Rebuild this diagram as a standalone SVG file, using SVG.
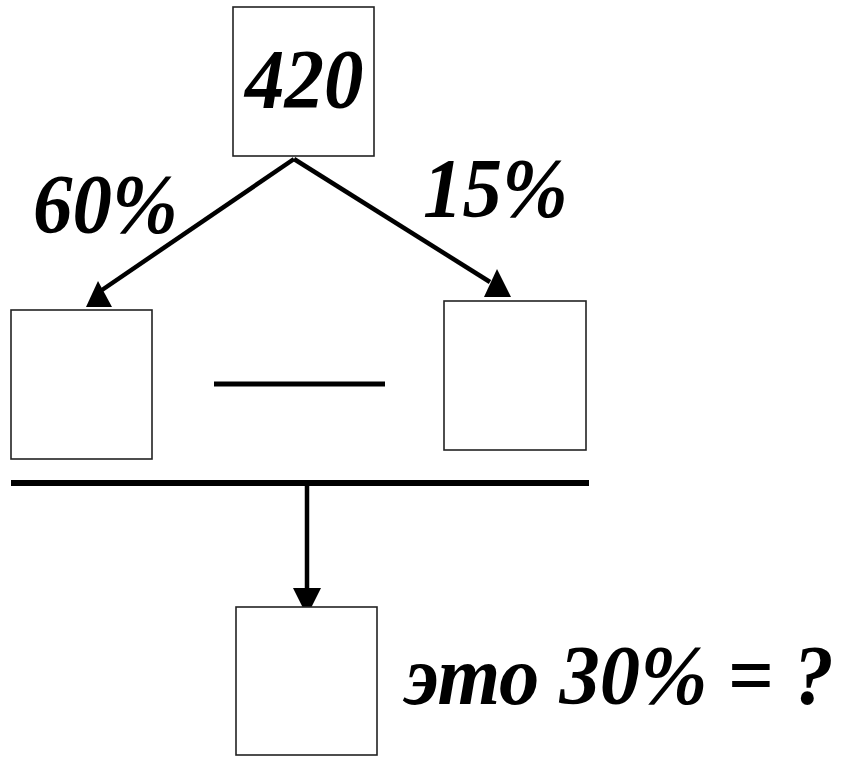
<svg xmlns="http://www.w3.org/2000/svg" width="845" height="757" viewBox="0 0 845 757">
<style>
.box{fill:#fff;stroke:#222;stroke-width:1.6}
.t{font-family:"Liberation Serif","Times New Roman",serif;font-weight:bold;font-style:italic;font-size:84px;fill:#000}
.ln{stroke:#000;stroke-width:4.5;fill:none}
.bar{stroke:#000;stroke-width:6;fill:none}
.ah{fill:#000}
</style>
<rect width="845" height="757" fill="#fff"/>
<g id="connectors">
<line class="ln" x1="294" y1="159" x2="102" y2="290"/>
<polygon class="ah" points="98,281 86,307 112,307"/>
<line class="ln" x1="294" y1="159" x2="490" y2="282"/>
<polygon class="ah" points="497,269 484,297 511,297"/>
<line class="bar" x1="11" y1="483" x2="589" y2="483"/>
<line class="ln" x1="307" y1="483" x2="307" y2="592"/>
<polygon class="ah" points="293,588 321,588 307,616"/>
</g>
<g id="node-top">
<rect class="box" x="233" y="7" width="141" height="149"/>
<text class="t" transform="translate(245,108) scale(0.94,1)">420</text>
</g>
<g id="label-60">
<text class="t" transform="translate(33,233) scale(0.94,1)">60%</text>
</g>
<g id="label-15">
<text class="t" transform="translate(423,217) scale(0.94,1)">15%</text>
</g>
<g id="node-left">
<rect class="box" x="11" y="310" width="141" height="149"/>
</g>
<g id="minus">
<line class="bar" x1="214" y1="384" x2="385" y2="384" style="stroke-width:5"/>
</g>
<g id="node-right">
<rect class="box" x="444" y="301" width="142" height="149"/>
</g>
<g id="node-bottom">
<rect class="box" x="236" y="607" width="141" height="148"/>
<text class="t" transform="translate(405,704) scale(0.96,1)">это 30% = ?</text>
</g>
</svg>
